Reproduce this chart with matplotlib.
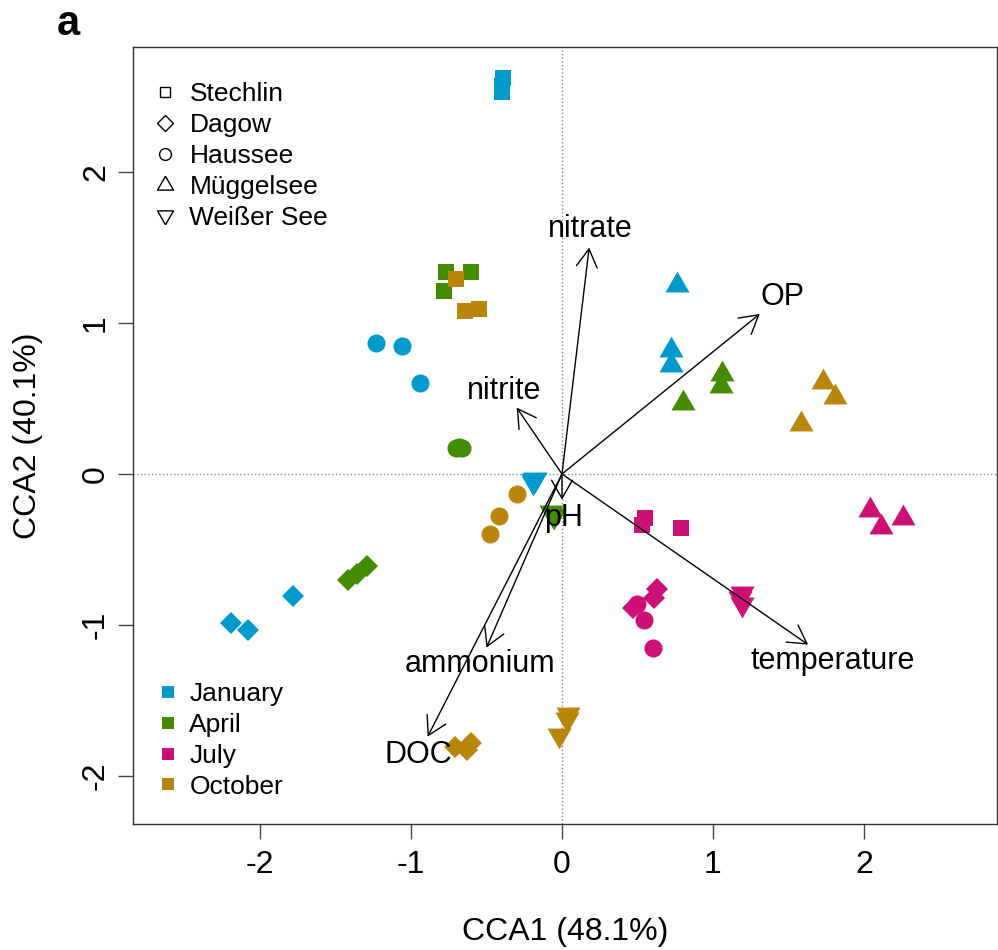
import numpy as np
import matplotlib.pyplot as plt
from matplotlib.lines import Line2D
from matplotlib.patches import FancyArrowPatch

plt.rcParams['font.family'] = ['Liberation Sans', 'DejaVu Sans']
plt.rcParams['axes.unicode_minus'] = False

lakes = ['Stechlin', 'Dagow', 'Haussee', 'Müggelsee', 'Weißer See']
months = ['January', 'April', 'July', 'October']

# site scores: lake -> month (Jan, Apr, Jul, Oct) -> 3 replicates
sample_lake = np.repeat(lakes, 12)
sample_month = np.tile(np.repeat(months, 3), len(lakes))
cca1 = [
    # Stechlin
    -0.39, -0.40, -0.40,  -0.77, -0.60, -0.78,   0.55,  0.53,  0.79,  -0.70, -0.64, -0.55,
    # Dagow
    -2.19, -2.08, -1.78,  -1.42, -1.36, -1.29,   0.63,  0.61,  0.47,  -0.71, -0.60, -0.63,
    # Haussee
    -1.23, -1.06, -0.94,  -0.70, -0.66, -0.68,   0.50,  0.54,  0.60,  -0.30, -0.42, -0.48,
    # Müggelsee
     0.76,  0.72,  0.72,   1.06,  1.05,  0.80,   2.04,  2.11,  2.26,   1.73,  1.81,  1.58,
    # Weißer See
    -0.19, -0.18, -0.19,  -0.07, -0.05, -0.06,   1.19,  1.19,  1.18,   0.04, -0.02,  0.03,
]
cca2 = [
     2.62,  2.53,  2.57,   1.34,  1.34,  1.21,  -0.29, -0.34, -0.36,   1.29,  1.08,  1.09,
    -0.99, -1.03, -0.81,  -0.70, -0.66, -0.61,  -0.76, -0.82, -0.89,  -1.81, -1.78, -1.83,
     0.87,  0.85,  0.60,   0.17,  0.17,  0.18,  -0.86, -0.97, -1.15,  -0.13, -0.28, -0.40,
     1.25,  0.82,  0.72,   0.66,  0.58,  0.47,  -0.24, -0.35, -0.29,   0.61,  0.51,  0.33,
    -0.04, -0.03, -0.05,  -0.25, -0.28, -0.27,  -0.79, -0.86, -0.82,  -1.59, -1.73, -1.62,
]

# environmental vectors (biplot arrows) and where their names sit
env_vars = ['nitrate', 'OP', 'nitrite', 'pH', 'temperature', 'ammonium', 'DOC']
env_cca1 = [0.18, 1.31, -0.30, 0.00, 1.63, -0.50, -0.89]
env_cca2 = [1.50, 1.06, 0.44, -0.17, -1.13, -1.15, -1.74]
label_cca1 = [0.19, 1.46, -0.38, 0.01, 1.79, -0.54, -0.95]
label_cca2 = [1.62, 1.17, 0.55, -0.29, -1.24, -1.26, -1.86]

month_colors = {'January': '#009ACD', 'April': '#458B00',
                'July': '#CD1076', 'October': '#B8860B'}

# R-style triangles (pch 17 / 25 geometry)
tri_up = [(0, 1.555), (1.347, -0.778), (-1.347, -0.778), (0, 1.555)]
tri_down = [(x, -y) for x, y in tri_up]
lake_markers = {'Stechlin': 's', 'Dagow': 'D', 'Haussee': 'o',
                'Müggelsee': tri_up, 'Weißer See': tri_down}
lake_sizes = {'Stechlin': 11.5, 'Dagow': 11.5, 'Haussee': 13,
              'Müggelsee': 20, 'Weißer See': 20}

fig = plt.figure(figsize=(9.98, 9.5), dpi=100)
ax = fig.add_axes([133 / 998, 1 - 824 / 950, 864 / 998, 777 / 950])
ax.set_xlim(-2.841, 2.881)
ax.set_ylim(-2.318, 2.828)

ax.axhline(0, ls=':', lw=1, color='#888888', zorder=1)
ax.axvline(0, ls=':', lw=1, color='#888888', zorder=1)

cca1 = np.array(cca1)
cca2 = np.array(cca2)
for lake in lakes:
    for month in months:
        sel = (sample_lake == lake) & (sample_month == month)
        ax.plot(cca1[sel], cca2[sel], ls='none', marker=lake_markers[lake],
                ms=lake_sizes[lake], mew=0, color=month_colors[month], zorder=2)

for x, y in zip(env_cca1, env_cca2):
    ax.add_patch(FancyArrowPatch((0, 0), (x, y),
                                 arrowstyle='->,head_length=1.3,head_width=0.75',
                                 mutation_scale=10, lw=1, color='black',
                                 shrinkA=0, shrinkB=0, zorder=3))
for name, x, y in zip(env_vars, label_cca1, label_cca2):
    ax.text(x, y, name, fontsize=22, ha='center', va='center', zorder=4)

# legends: lakes by symbol, months by colour
legend_sizes = {'Stechlin': 7.7, 'Dagow': 8, 'Haussee': 8.5,
                'Müggelsee': 13.3, 'Weißer See': 13.3}
lake_handles = [Line2D([], [], ls='none', marker=lake_markers[l], ms=legend_sizes[l],
                       mfc='none', mec='black', mew=1) for l in lakes]
leg1 = ax.legend(lake_handles, lakes, loc='upper left', bbox_to_anchor=(0.022, 0.9546),
                 frameon=False, fontsize=19, handlelength=1.0, handletextpad=0.42,
                 labelspacing=0.26, borderpad=0, borderaxespad=0)
ax.add_artist(leg1)
month_handles = [Line2D([], [], ls='none', marker='s', ms=8, mew=0,
                        color=month_colors[m]) for m in months]
ax.legend(month_handles, months, loc='upper left', bbox_to_anchor=(0.0255, 0.1826),
          frameon=False, fontsize=19, handlelength=1.0, handletextpad=0.3,
          labelspacing=0.26, borderpad=0, borderaxespad=0)

ax.set_xticks([-2, -1, 0, 1, 2])
ax.set_yticks([-2, -1, 0, 1, 2])
ax.tick_params(direction='out', length=10.8, width=1, color='#444444',
               pad=8, labelsize=23)
ax.tick_params(axis='y', labelrotation=90, pad=5)
for lab in ax.get_yticklabels():
    lab.set_va('center')
for s in ax.spines.values():
    s.set_color('#333333')
    s.set_linewidth(1)

ax.set_xlabel('CCA1 (48.1%)', fontsize=23)
ax.xaxis.set_label_coords(0.5, -0.139)
ax.xaxis.label.set_va('center')
ax.set_ylabel('CCA2 (40.1%)', fontsize=23)
ax.yaxis.set_label_coords(-0.122, 0.5)
ax.yaxis.label.set_va('center')

fig.text(68 / 998, 1 - 24 / 950, 'a', fontsize=30, fontweight='bold',
         ha='center', va='center')

fig.savefig('out.png', dpi=100)
